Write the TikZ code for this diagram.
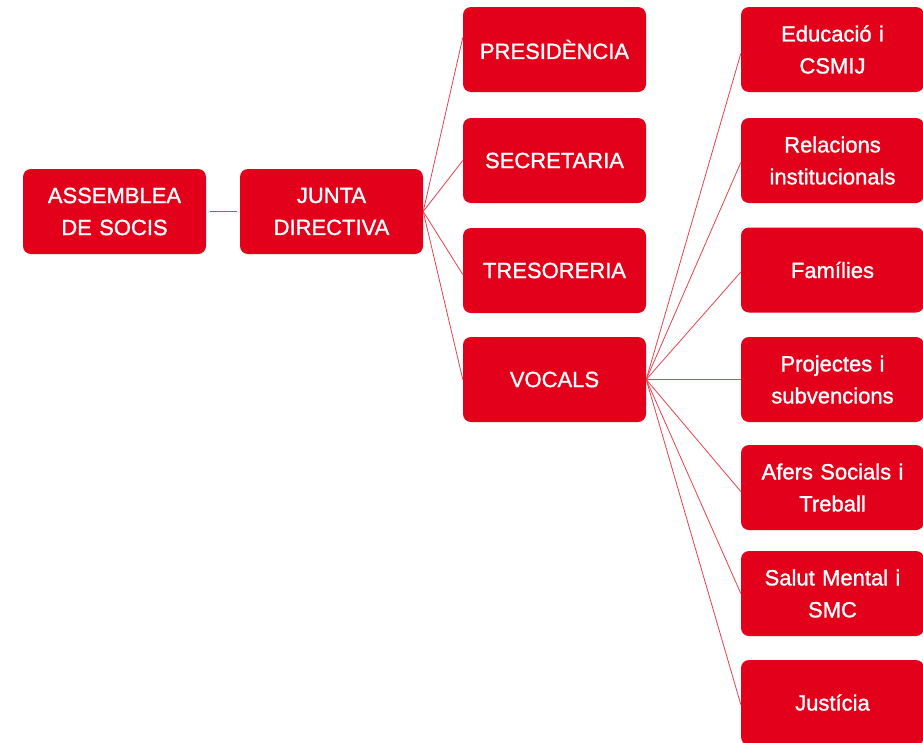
\documentclass[tikz,border=0pt]{standalone}
\usepackage{fontspec}
\setmainfont{Liberation Sans}
\newfontfamily\orgfont[FakeBold=1.2]{Liberation Sans}
\usepackage{xcolor}
\usepackage{tikz}
\usetikzlibrary{arrows, calc, positioning, shapes}
\definecolor{OrgRed}{HTML}{E2001A}
\definecolor{LineRed}{HTML}{E8404F}
\tikzset{
    orgbox/.style={fill=OrgRed,rounded corners=8pt,minimum width=183pt,minimum height=85pt,
        inner sep=0pt,text width=175pt,align=center,text=white,
        font={\orgfont\fontsize{22}{32}\selectfont\fontdimen2\font=3.5pt\fontdimen3\font=0pt}},
    orgline/.style={LineRed,line width=0.8pt}
}

\begin{document}
\begin{tikzpicture}[x=1pt,y=-1pt]
  \useasboundingbox (0,0) rectangle (923,742);
  \clip (0,0) rectangle (923,742);

  % first levels
  \node[orgbox] (assemblea) at (114.5,211.5) {ASSEMBLEA\\DE SOCIS};
  \node[orgbox] (junta) at (331.5,211.5) {JUNTA\\DIRECTIVA};

  % carrecs
  \node[orgbox] (presidencia) at (554.5,49.5) {PRESIDÈNCIA};
  \node[orgbox] (secretaria) at (554.5,160.5) {SECRETARIA};
  \node[orgbox] (tresoreria) at (554.5,270.5) {TRESORERIA};
  \node[orgbox] (vocals) at (554.5,379.5) {VOCALS};

  % vocalies
  \node[orgbox] (educacio) at (832.5,49.5) {Educació i\\CSMIJ};
  \node[orgbox] (relacions) at (832.5,160.5) {Relacions\\institucionals};
  \node[orgbox] (families) at (832.5,270) {Famílies};
  \node[orgbox] (projectes) at (832.5,379.5) {Projectes i\\subvencions};
  \node[orgbox] (afers) at (832.5,487.5) {Afers Socials i\\Treball};
  \node[orgbox] (salut) at (832.5,593.5) {Salut Mental i\\SMC};
  \node[orgbox] (justicia) at (832.5,702.5) {Justícia};

  \draw[orgline] ([xshift=4pt]assemblea.east) -- ([xshift=-3pt]junta.west);

  \draw[orgline] (junta.east) -- ([yshift=12pt]presidencia.west);
  \draw[orgline] (junta.east) -- (secretaria.west);
  \draw[orgline] (junta.east) -- ([yshift=-4pt]tresoreria.west);
  \draw[orgline] (junta.east) -- (vocals.west);

  \draw[orgline] (vocals.east) -- ([yshift=-4pt]educacio.west);
  \draw[orgline] (vocals.east) -- ([yshift=-2pt]relacions.west);
  \draw[orgline] (vocals.east) -- ([yshift=-2pt]families.west);
  \draw[orgline] (vocals.east) -- (projectes.west);
  \draw[orgline] (vocals.east) -- ([yshift=-4pt]afers.west);
  \draw[orgline] (vocals.east) -- (salut.west);
  \draw[orgline] (vocals.east) -- ([yshift=-2pt]justicia.west);
\end{tikzpicture}
\end{document}
